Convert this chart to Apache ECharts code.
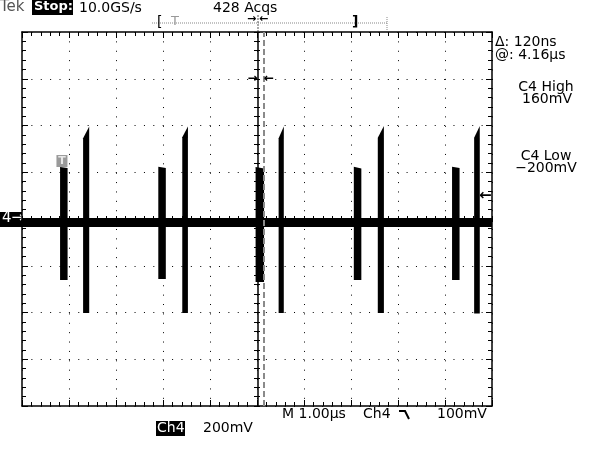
<!DOCTYPE html>
<html><head><meta charset="utf-8">
<script src="https://cdn.jsdelivr.net/npm/echarts@6/dist/echarts.min.js"></script>
<style>html,body{margin:0;padding:0;background:#fff}#c{width:600px;height:450px}</style>
</head><body><div id="c"></div>
<script>
// Horizontal: µs (1.00 µs/div, 10 div); vertical: mV (200 mV/div, 8 div)
const timeRange = [0, 10];
const voltRange = [-800, 800];
const timeDiv = 1;
const voltDiv = 200;
const baselineLevel = -15;
// bursts (start µs, end µs, top at start mV, top at end mV, bottom mV)
const burstStart    = [0.81, 1.30, 2.90, 3.41, 4.97, 5.46, 7.06, 7.57, 9.15, 9.62];
const burstEnd      = [0.97, 1.43, 3.06, 3.53, 5.15, 5.57, 7.22, 7.70, 9.31, 9.74];
const burstTopStart = [222, 345, 224, 350, 222, 345, 224, 348, 224, 348];
const burstTopEnd   = [218, 396, 218, 396, 216, 396, 216, 398, 218, 398];
const burstLow      = [-261, -402, -257, -402, -270, -402, -261, -402, -261, -404];
const triggerTime = 0.85;
const triggerMarkLevel = 248;
const triggerLevel = 100;
const cursorTimes = [5.02, 5.14];
const cursorArrowLevel = 600;

const font = 'DejaVu Sans';
const chart = echarts.init(document.getElementById('c'));

function frameAxis(pos, isX, opts) {
  return Object.assign({
    type: 'value', position: pos, gridIndex: 0,
    min: isX ? timeRange[0] : voltRange[0], max: isX ? timeRange[1] : voltRange[1],
    interval: isX ? timeDiv : voltDiv,
    axisLine: {show: true, onZero: false, lineStyle: {color: '#000', width: 1.5}},
    axisTick: {show: true, inside: true, length: 6, lineStyle: {color: '#000', width: 1}},
    minorTick: {show: true, splitNumber: 5, length: 4, lineStyle: {color: '#000', width: 1}},
    axisLabel: {show: false},
    splitLine: {show: false},
    minorSplitLine: {show: false}
  }, opts || {});
}
function centerAxis(pos, isX, inside, offset) {
  return frameAxis(pos, isX, {
    offset: offset,
    axisLine: {show: false, onZero: false},
    axisTick: {show: true, inside: inside, length: 3, lineStyle: {color: '#000', width: 1}},
    minorTick: {show: true, splitNumber: 5, length: 3, lineStyle: {color: '#000', width: 1}}
  });
}
const dotted = {show: true, lineStyle: {color: '#000', width: 1, type: [1, 8.38]}};

const burstData = burstStart.map((s, i) => [s, burstEnd[i], burstTopStart[i], burstTopEnd[i], burstLow[i]]);

const option = {
  animation: false,
  backgroundColor: '#fff',
  grid: {left: 22, top: 32, width: 470, height: 374, containLabel: false, outerBoundsMode: 'none'},
  xAxis: [
    frameAxis('bottom', true, {splitLine: dotted}),
    frameAxis('top', true),
    centerAxis('bottom', true, true, -187),
    centerAxis('bottom', true, false, -187)
  ],
  yAxis: [
    frameAxis('left', false, {splitLine: dotted}),
    frameAxis('right', false),
    centerAxis('left', false, true, -235),
    centerAxis('left', false, false, -235)
  ],
  series: [
    {
      type: 'line', xAxisIndex: 0, yAxisIndex: 0, symbol: 'none', silent: true,
      data: [[timeRange[0], baselineLevel], [timeRange[1], baselineLevel]],
      lineStyle: {color: '#000', width: 9},
      z: 3,
      markLine: {
        silent: true, symbol: 'none', label: {show: false},
        data: [
          {xAxis: cursorTimes[0], lineStyle: {color: '#000', width: 1.5, type: 'solid'}},
          {xAxis: cursorTimes[1], lineStyle: {color: '#8a8a8a', width: 2, type: [6, 3]}}
        ]
      },
      markPoint: {
        silent: true,
        data: [
          {coord: [triggerTime, triggerMarkLevel], symbol: 'rect', symbolSize: [11, 12],
           itemStyle: {color: '#9a9a9a'},
           label: {show: true, formatter: 'T', color: '#e8e8e8', fontSize: 11, fontWeight: 'bold', fontFamily: font, position: 'inside'}},
          {coord: [timeRange[1], triggerLevel], symbol: 'circle', symbolSize: 1,
           itemStyle: {color: 'rgba(0,0,0,0)'},
           label: {show: true, formatter: '←', color: '#000', fontSize: 15, fontWeight: 'bold', fontFamily: font, position: 'left', distance: 0}},
          {coord: [cursorTimes[0], cursorArrowLevel], symbol: 'circle', symbolSize: 1,
           itemStyle: {color: 'rgba(0,0,0,0)'},
           label: {show: true, formatter: '→', color: '#000', fontSize: 12, fontWeight: 'bold', fontFamily: font, position: 'left', distance: 0}},
          {coord: [cursorTimes[1], cursorArrowLevel], symbol: 'circle', symbolSize: 1,
           itemStyle: {color: 'rgba(0,0,0,0)'},
           label: {show: true, formatter: '←', color: '#000', fontSize: 12, fontWeight: 'bold', fontFamily: font, position: 'right', distance: 0}}
        ]
      }
    },
    {
      type: 'custom', xAxisIndex: 0, yAxisIndex: 0, silent: true, z: 4,
      data: burstData,
      encode: {x: [0, 1], y: [2, 3, 4]},
      renderItem: function (params, api) {
        const t0 = api.value(0), t1 = api.value(1);
        const pts = [api.coord([t0, api.value(2)]), api.coord([t1, api.value(3)]),
                     api.coord([t1, api.value(4)]), api.coord([t0, api.value(4)])];
        return {type: 'polygon', shape: {points: pts}, style: {fill: '#000'}};
      }
    }
  ],
  graphic: [
    // header
    {type: 'text', left: 0, top: 0, style: {text: 'Tek', fill: '#555', font: '15px "DejaVu Sans"'}},
    {type: 'rect', shape: {x: 32, y: 0, width: 41, height: 15}, style: {fill: '#000'}},
    {type: 'text', left: 34, top: 0, style: {text: 'Stop:', fill: '#fff', font: 'bold 13px "DejaVu Sans"'}},
    {type: 'text', left: 79, top: 1, style: {text: '10.0GS/s', fill: '#000', font: '14px "DejaVu Sans"'}},
    {type: 'text', left: 213, top: 1, style: {text: '428 Acqs', fill: '#000', font: '14px "DejaVu Sans"'}},
    // record view bar
    {type: 'line', shape: {x1: 152, y1: 23, x2: 387, y2: 23}, style: {stroke: '#888', lineWidth: 1, lineDash: [1, 1]}},
    {type: 'line', shape: {x1: 387, y1: 17, x2: 387, y2: 30}, style: {stroke: '#888', lineWidth: 1, lineDash: [1, 1]}},
    {type: 'text', left: 157, top: 15, style: {text: '[', fill: '#000', font: '14px "DejaVu Sans"'}},
    {type: 'text', left: 171, top: 15, style: {text: 'T', fill: '#999', font: '13px "DejaVu Sans"'}},
    {type: 'text', left: 352, top: 15, style: {text: ']', fill: '#000', font: 'bold 14px "DejaVu Sans"'}},
    {type: 'line', shape: {x1: 258, y1: 15, x2: 258, y2: 32}, style: {stroke: '#555', lineWidth: 1, lineDash: [2, 1]}},
    {type: 'text', left: 247, top: 14, style: {text: '→', fill: '#000', font: 'bold 11px "DejaVu Sans"'}},
    {type: 'text', left: 259, top: 14, style: {text: '←', fill: '#000', font: 'bold 11px "DejaVu Sans"'}},
    // channel marker
    {type: 'rect', shape: {x: 0, y: 212, width: 22, height: 15}, style: {fill: '#000'}},
    {type: 'text', left: 2, top: 211, style: {text: '4→', fill: '#fff', font: '15px "DejaVu Sans"'}},
    // right panel
    {type: 'text', left: 495, top: 35, style: {text: 'Δ: 120ns', fill: '#000', font: '14px "DejaVu Sans"'}},
    {type: 'text', left: 495, top: 48, style: {text: '@: 4.16µs', fill: '#000', font: '14px "DejaVu Sans"'}},
    {type: 'text', x: 546, y: 80, style: {text: 'C4 High', fill: '#000', font: '14px "DejaVu Sans"', align: 'center'}},
    {type: 'text', x: 547, y: 92, style: {text: '160mV', fill: '#000', font: '14px "DejaVu Sans"', align: 'center'}},
    {type: 'text', x: 546, y: 149, style: {text: 'C4 Low', fill: '#000', font: '14px "DejaVu Sans"', align: 'center'}},
    {type: 'text', x: 546, y: 161, style: {text: '−200mV', fill: '#000', font: '14px "DejaVu Sans"', align: 'center'}},
    // bottom
    {type: 'text', left: 282, top: 407, style: {text: 'M 1.00µs', fill: '#000', font: '14px "DejaVu Sans"'}},
    {type: 'text', left: 363, top: 407, style: {text: 'Ch4', fill: '#000', font: '14px "DejaVu Sans"'}},
    {type: 'polyline', shape: {points: [[399, 411], [405, 411], [409, 419]]}, style: {stroke: '#000', lineWidth: 2, fill: null}},
    {type: 'text', left: 437, top: 407, style: {text: '100mV', fill: '#000', font: '14px "DejaVu Sans"'}},
    {type: 'rect', shape: {x: 156, y: 421, width: 29, height: 15}, style: {fill: '#000'}},
    {type: 'text', left: 157, top: 421, style: {text: 'Ch4', fill: '#fff', font: '14px "DejaVu Sans"'}},
    {type: 'text', left: 203, top: 421, style: {text: '200mV', fill: '#000', font: '14px "DejaVu Sans"'}}
  ]
};
chart.setOption(option);
</script>
</body></html>
